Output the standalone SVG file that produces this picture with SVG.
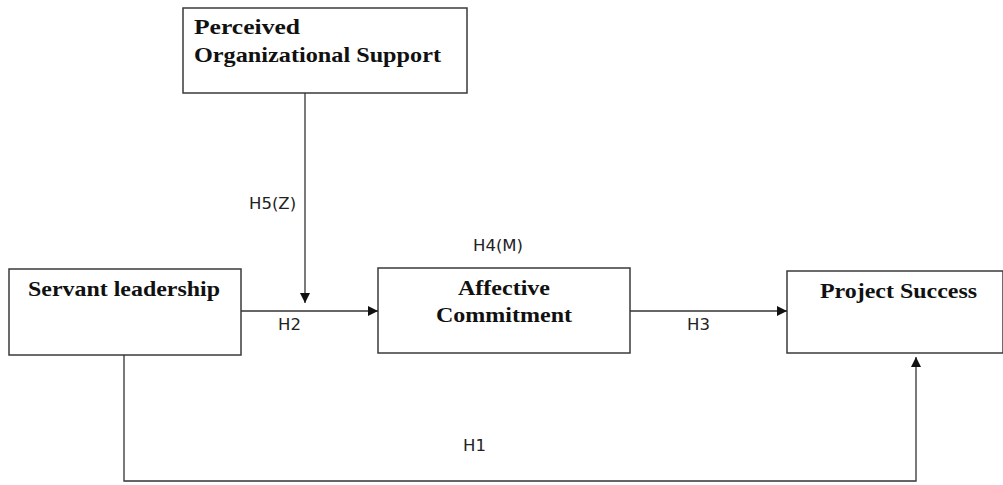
<svg xmlns="http://www.w3.org/2000/svg" width="1003" height="485" viewBox="0 0 1003 485">
<style>
.box{fill:#fff;stroke:#3a3a3a;stroke-width:1.5}
.nt{font-family:"Liberation Serif",serif;font-weight:bold;font-size:21px;fill:#111}
.lb{font-family:"DejaVu Sans",sans-serif;font-size:16.5px;fill:#222}
.ln{fill:none;stroke:#333;stroke-width:1.3}
</style>
<defs>
<marker id="ah" viewBox="0 0 10 10" refX="10" refY="5" markerWidth="10" markerHeight="10" markerUnits="userSpaceOnUse" orient="auto">
<path d="M0,0 L10,5 L0,10 Z" fill="#111"/>
</marker>
</defs>
<rect width="1003" height="485" fill="#fff"/>
<g id="pos">
<rect class="box" x="183" y="8" width="284" height="85"/>
<text class="nt" x="194" y="34" textLength="106" lengthAdjust="spacingAndGlyphs">Perceived</text>
<text class="nt" x="194" y="62" textLength="247" lengthAdjust="spacingAndGlyphs">Organizational Support</text>
</g>
<g id="sl">
<rect class="box" x="9" y="269" width="232" height="86"/>
<text class="nt" x="28" y="296" textLength="192" lengthAdjust="spacingAndGlyphs">Servant leadership</text>
</g>
<g id="ac">
<rect class="box" x="378" y="268" width="252" height="85"/>
<text class="nt" x="458" y="295" textLength="92" lengthAdjust="spacingAndGlyphs">Affective</text>
<text class="nt" x="436" y="322" textLength="136" lengthAdjust="spacingAndGlyphs">Commitment</text>
</g>
<g id="ps">
<rect class="box" x="787" y="271" width="216" height="82"/>
<text class="nt" x="820" y="298" textLength="157" lengthAdjust="spacingAndGlyphs">Project Success</text>
</g>
<g id="connectors">
<line class="ln" x1="305" y1="93" x2="305" y2="303" marker-end="url(#ah)"/>
<line class="ln" x1="241" y1="311" x2="378" y2="311" marker-end="url(#ah)"/>
<line class="ln" x1="630" y1="311" x2="787" y2="311" marker-end="url(#ah)"/>
<polyline class="ln" points="124,355 124,481 916,481 916,357" marker-end="url(#ah)"/>
</g>
<g id="labels">
<text class="lb" x="249" y="209">H5(Z)</text>
<text class="lb" x="473" y="251">H4(M)</text>
<text class="lb" x="278" y="330">H2</text>
<text class="lb" x="687" y="330">H3</text>
<text class="lb" x="463" y="451">H1</text>
</g>
</svg>
